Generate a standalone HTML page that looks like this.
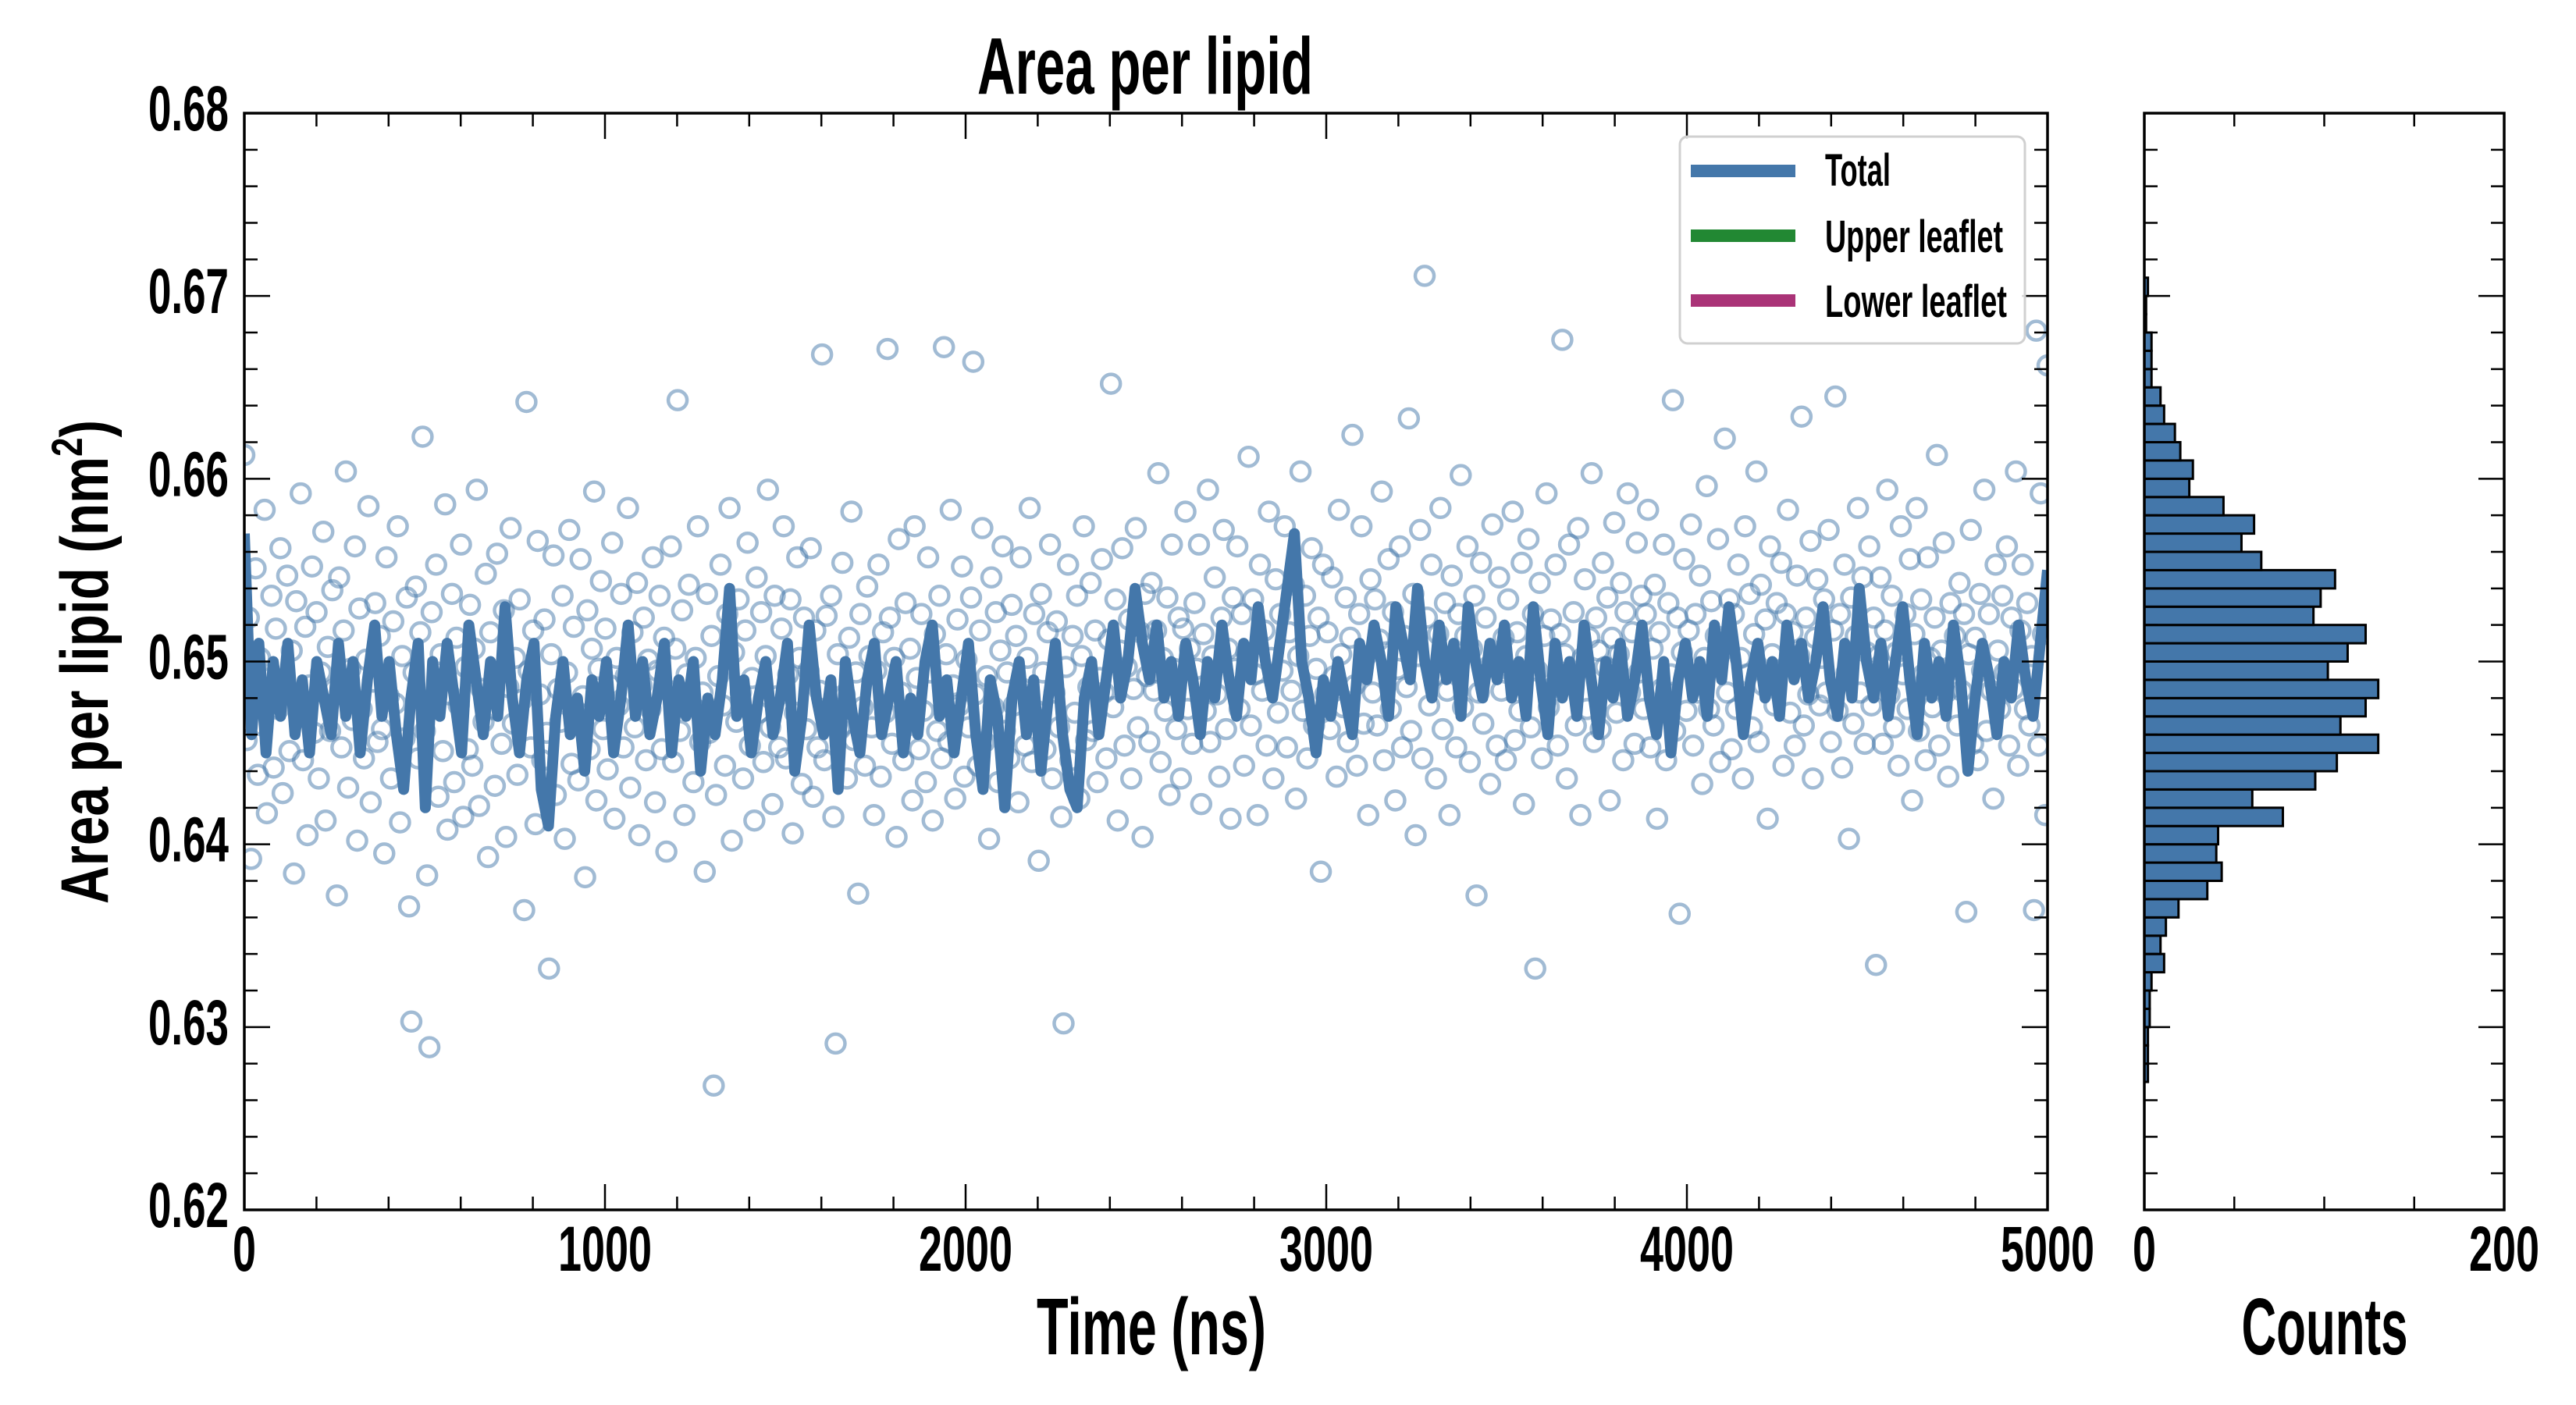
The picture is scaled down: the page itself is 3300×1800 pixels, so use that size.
<!DOCTYPE html>
<html><head><meta charset="utf-8"><title>Area per lipid</title>
<style>
html,body{margin:0;padding:0;background:#fff;}
svg{display:block;}
.cond{font-family:"Liberation Sans Narrow","Liberation Sans",sans-serif;font-weight:bold;fill:#000;}
</style></head>
<body>
<svg id="chart" xmlns="http://www.w3.org/2000/svg" width="3300" height="1800" viewBox="0 0 3300 1800">
<defs><clipPath id="plotclip"><rect x="313" y="145" width="2310" height="1405"/></clipPath></defs>
<rect x="0" y="0" width="3300" height="1800" fill="#fff"/>
<g id="scatter" clip-path="url(#plotclip)"></g>
<g id="lines" clip-path="url(#plotclip)"></g>
<g id="hist"></g>
<g id="axes"></g>
<text class="cond" x="1467" y="120" text-anchor="middle" font-size="103" textLength="430" lengthAdjust="spacingAndGlyphs">Area per lipid</text>
<text class="cond" x="1475" y="1735" text-anchor="middle" font-size="103" textLength="294" lengthAdjust="spacingAndGlyphs">Time (ns)</text>
<text class="cond" x="2978" y="1735" text-anchor="middle" font-size="103" textLength="213" lengthAdjust="spacingAndGlyphs">Counts</text>
<text x="0" y="0" transform="translate(138,848) rotate(-90)" text-anchor="middle" font-family="Liberation Sans, sans-serif" font-weight="bold" font-size="86" textLength="620" lengthAdjust="spacingAndGlyphs">Area per lipid (nm<tspan font-size="56" dy="-33">2</tspan><tspan dy="33">)</tspan></text>
<g>
<rect x="2152" y="175" width="442" height="265" rx="10" ry="10" fill="#fff" fill-opacity="0.85" stroke="#d0d0d0" stroke-width="3"/>
<line x1="2166" y1="219" x2="2300" y2="219" stroke="#4477aa" stroke-width="16"/>
<line x1="2166" y1="302" x2="2300" y2="302" stroke="#228833" stroke-width="16"/>
<line x1="2166" y1="385" x2="2300" y2="385" stroke="#aa3377" stroke-width="16"/>
<text class="cond" x="2338" y="238" font-size="58" textLength="84" lengthAdjust="spacingAndGlyphs">Total</text>
<text class="cond" x="2338" y="323" font-size="58" textLength="228" lengthAdjust="spacingAndGlyphs">Upper leaflet</text>
<text class="cond" x="2338" y="406" font-size="58" textLength="233" lengthAdjust="spacingAndGlyphs">Lower leaflet</text>
</g>
</svg>
<script>
// ---- data ----
var tMax = 5000;
var lineValues = [
.657,.646,.651,.645,.650,.647,.651,.646,.649,.645,.650,.648,.646,.651,.647,.650,.645,.649,.652,.647,.650,.646,.643,.648,.651,
.642,.650,.647,.651,.648,.645,.652,.649,.646,.650,.647,.653,.648,.645,.649,.651,.643,.641,.647,.650,.646,.648,.644,.649,.647,
.650,.645,.648,.652,.647,.650,.646,.648,.651,.645,.649,.647,.650,.644,.648,.646,.649,.654,.647,.649,.645,.648,.650,.646,.648,
.651,.644,.647,.652,.648,.646,.649,.643,.650,.647,.645,.649,.651,.646,.648,.650,.645,.648,.646,.650,.652,.647,.649,.645,.648,
.651,.646,.643,.649,.647,.642,.648,.650,.646,.649,.644,.648,.651,.646,.643,.642,.648,.650,.646,.649,.652,.648,.650,.654,.651,
.649,.652,.648,.650,.647,.651,.649,.646,.650,.648,.652,.649,.647,.651,.649,.653,.650,.648,.651,.654,.657,.650,.648,.645,.649,
.647,.650,.648,.646,.651,.649,.652,.650,.647,.653,.651,.649,.654,.650,.648,.652,.649,.651,.647,.653,.650,.648,.651,.649,.652,
.648,.650,.647,.653,.649,.646,.651,.648,.650,.647,.652,.649,.646,.650,.648,.651,.647,.649,.652,.648,.646,.650,.645,.649,.651,
.648,.650,.647,.652,.649,.653,.650,.646,.649,.651,.648,.650,.647,.652,.649,.651,.648,.650,.653,.649,.647,.651,.648,.654,.650,
.648,.651,.647,.650,.653,.649,.646,.651,.648,.650,.647,.652,.649,.644,.648,.651,.649,.646,.650,.648,.652,.649,.647,.651,.655];
var scatterValues = [
.6613,.6457,.6524,.6392,.6486,.6551,.6438,.6502,.6465,.6583,.6417,.6491,.6536,.6442,.6518,.6474,.6562,.6428,.6483,.6547,
.6451,.6506,.6384,.6533,.6478,.6592,.6446,.6519,.6405,.6487,.6552,.6461,.6527,.6436,.6494,.6571,.6413,.6508,.6462,.6539,
.6485,.6372,.6546,.6453,.6517,.6604,.6431,.6496,.6468,.6563,.6402,.6529,.6474,.6447,.6501,.6585,.6423,.6489,.6532,.6456,
.6514,.6463,.6395,.6557,.6481,.6436,.6522,.6477,.6574,.6412,.6503,.6458,.6535,.6366,.6303,.6494,.6541,.6447,.6516,.6623,
.6462,.6383,.6289,.6527,.6475,.6553,.6426,.6504,.6451,.6586,.6408,.6482,.6537,.6434,.6513,.6476,.6564,.6415,.6497,.6452,
.6531,.6443,.6507,.6594,.6421,.6485,.6467,.6548,.6393,.6516,.6474,.6432,.6559,.6493,.6455,.6528,.6404,.6486,.6573,.6466,
.6502,.6438,.6534,.6479,.6364,.6642,.6495,.6453,.6517,.6411,.6566,.6482,.6446,.6523,.6461,.6332,.6504,.6558,.6427,.6485,
.6467,.6536,.6403,.6494,.6572,.6444,.6519,.6473,.6435,.6556,.6481,.6382,.6528,.6452,.6507,.6593,.6424,.6496,.6544,.6463,
.6518,.6441,.6487,.6565,.6414,.6502,.6476,.6537,.6453,.6492,.6584,.6431,.6516,.6464,.6543,.6405,.6487,.6524,.6446,.6501,
.6474,.6557,.6423,.6495,.6536,.6452,.6513,.6396,.6484,.6563,.6445,.6507,.6643,.6462,.6528,.6416,.6493,.6542,.6477,.6434,
.6502,.6574,.6456,.6483,.6385,.6537,.6461,.6514,.6268,.6427,.6492,.6553,.6476,.6443,.6526,.6584,.6402,.6505,.6467,.6534,
.6483,.6436,.6517,.6565,.6454,.6491,.6413,.6546,.6472,.6527,.6445,.6503,.6594,.6464,.6422,.6536,.6481,.6453,.6518,.6574,
.6447,.6493,.6534,.6406,.6472,.6557,.6502,.6433,.6524,.6463,.6495,.6562,.6426,.6517,.6453,.6484,.6668,.6446,.6525,.6471,
.6536,.6415,.6291,.6504,.6463,.6554,.6482,.6436,.6513,.6582,.6457,.6494,.6373,.6526,.6475,.6443,.6541,.6503,.6464,.6416,
.6495,.6553,.6437,.6516,.6472,.6671,.6524,.6455,.6502,.6404,.6567,.6483,.6446,.6532,.6465,.6507,.6424,.6574,.6491,.6452,
.6526,.6473,.6434,.6557,.6494,.6413,.6515,.6462,.6536,.6447,.6672,.6504,.6456,.6583,.6487,.6425,.6523,.6476,.6552,.6437,
.6501,.6464,.6535,.6664,.6482,.6443,.6517,.6573,.6456,.6492,.6403,.6546,.6475,.6527,.6434,.6506,.6563,.6462,.6494,.6447,
.6531,.6476,.6514,.6423,.6557,.6485,.6454,.6502,.6584,.6445,.6526,.6473,.6391,.6537,.6494,.6452,.6516,.6564,.6436,.6483,
.6522,.6464,.6415,.6302,.6497,.6553,.6446,.6514,.6472,.6536,.6425,.6503,.6574,.6457,.6486,.6543,.6462,.6517,.6434,.6491,
.6556,.6483,.6447,.6512,.6652,.6475,.6534,.6413,.6506,.6562,.6454,.6497,.6523,.6436,.6485,.6573,.6464,.6516,.6404,.6537,
.6492,.6456,.6543,.6484,.6517,.6603,.6445,.6502,.6473,.6535,.6427,.6564,.6496,.6463,.6524,.6436,.6518,.6582,.6474,.6507,
.6455,.6532,.6496,.6564,.6422,.6515,.6473,.6594,.6456,.6503,.6546,.6482,.6437,.6524,.6572,.6463,.6507,.6414,.6535,.6496,
.6563,.6474,.6526,.6443,.6505,.6612,.6465,.6534,.6493,.6416,.6553,.6484,.6517,.6454,.6582,.6502,.6436,.6545,.6472,.6526,
.6495,.6574,.6453,.6516,.6484,.6542,.6425,.6503,.6604,.6473,.6536,.6447,.6514,.6562,.6465,.6496,.6524,.6385,.6553,.6482,
.6516,.6463,.6546,.6492,.6437,.6583,.6504,.6475,.6535,.6456,.6513,.6624,.6487,.6443,.6526,.6574,.6466,.6503,.6416,.6545,
.6483,.6534,.6465,.6512,.6593,.6446,.6505,.6556,.6474,.6527,.6424,.6496,.6563,.6453,.6514,.6486,.6633,.6462,.6537,.6405,
.6503,.6572,.6447,.6711,.6524,.6476,.6553,.6492,.6436,.6515,.6584,.6463,.6532,.6484,.6416,.6547,.6502,.6453,.6526,.6602,
.6475,.6514,.6563,.6445,.6507,.6536,.6372,.6483,.6554,.6466,.6524,.6497,.6433,.6575,.6502,.6454,.6546,.6484,.6513,.6446,
.6534,.6495,.6582,.6457,.6516,.6473,.6554,.6422,.6503,.6567,.6464,.6526,.6332,.6495,.6543,.6447,.6514,.6592,.6475,.6523,
.6486,.6553,.6454,.6515,.6676,.6504,.6436,.6564,.6493,.6527,.6465,.6573,.6416,.6502,.6545,.6474,.6513,.6603,.6456,.6524,
.6506,.6463,.6554,.6497,.6535,.6424,.6513,.6576,.6472,.6504,.6543,.6446,.6527,.6592,.6483,.6516,.6455,.6565,.6494,.6536,
.6474,.6526,.6583,.6453,.6507,.6542,.6414,.6516,.6485,.6564,.6446,.6532,.6493,.6643,.6462,.6524,.6362,.6505,.6556,.6473,
.6517,.6575,.6454,.6526,.6483,.6547,.6433,.6502,.6596,.6474,.6533,.6465,.6514,.6567,.6445,.6506,.6622,.6483,.6534,.6452,
.6526,.6474,.6553,.6502,.6436,.6574,.6493,.6537,.6464,.6515,.6604,.6456,.6542,.6487,.6523,.6414,.6563,.6504,.6476,.6532,
.6495,.6554,.6443,.6526,.6583,.6472,.6516,.6454,.6547,.6503,.6634,.6465,.6524,.6482,.6566,.6436,.6513,.6545,.6476,.6502,
.6534,.6483,.6572,.6456,.6517,.6645,.6473,.6526,.6442,.6553,.6494,.6403,.6535,.6466,.6514,.6584,.6483,.6546,.6455,.6505,
.6563,.6476,.6524,.6334,.6503,.6546,.6455,.6517,.6594,.6482,.6536,.6464,.6505,.6443,.6574,.6493,.6526,.6474,.6556,.6424,
.6515,.6584,.6462,.6534,.6493,.6446,.6557,.6502,.6475,.6524,.6613,.6454,.6506,.6565,.6483,.6437,.6532,.6496,.6514,.6465,
.6543,.6484,.6526,.6363,.6504,.6572,.6455,.6513,.6446,.6537,.6495,.6594,.6462,.6526,.6484,.6425,.6553,.6506,.6474,.6536,
.6494,.6563,.6454,.6524,.6485,.6604,.6443,.6517,.6553,.6474,.6532,.6465,.6503,.6364,.6681,.6454,.6592,.6515,.6416,.6662];
var binEdges = [.627,.628,.629,.630,.631,.632,.633,.634,.635,.636,.637,.638,.639,.640,.641,.642,.643,.644,.645,.646,.647,.648,.649,.650,.651,.652,.653,.654,.655,.656,.657,.658,.659,.660,.661,.662,.663,.664,.665,.666,.667,.668,.669,.670];
var binCounts = [2,2,2,3,3,4,11,9,12,19,35,43,40,41,77,60,95,107,130,109,123,130,102,113,123,94,98,106,65,54,61,44,25,27,20,17,11,9,4,4,4,1,1,2];
var binWidth = 0.001;
var xTickLabels = ["0","1000","2000","3000","4000","5000"];
var yTickLabels = ["0.62","0.63","0.64","0.65","0.66","0.67","0.68"];
var histTickLabels = ["0","200"];

// ---- axes functions ----
var PL=313, PR=2623, PT=145, PB=1550, HL=2747, HR=3208;
function xs(t){return PL + t/tMax*(PR-PL);}
function ys(v){return PT + (0.68-v)/0.06*(PB-PT);}
function hx(c){return HL + c/200*(HR-HL);}
var NS="http://www.w3.org/2000/svg";
function mk(tag, attrs, parent){var e=document.createElementNS(NS,tag);for(var k in attrs)e.setAttribute(k,attrs[k]);parent.appendChild(e);return e;}

// scatter
var sg=document.getElementById('scatter');
for(var i=0;i<scatterValues.length;i++){
  var c=mk('circle',{cx:xs(i*tMax/(scatterValues.length-1)),cy:ys(scatterValues[i]),r:12,fill:'none',stroke:'#4477aa','stroke-opacity':0.5,'stroke-width':4.5},sg);
  
  
}
// line
var pts=[];
for(var j=0;j<lineValues.length;j++){pts.push(xs(j*tMax/(lineValues.length-1)).toFixed(1)+','+ys(lineValues[j]).toFixed(1));}
var pl=mk('polyline',{points:pts.join(' '),fill:'none',stroke:'#4477aa','stroke-width':14,'stroke-linejoin':'round'},document.getElementById('lines'));


// histogram
var hg=document.getElementById('hist');
for(var b=0;b<binCounts.length;b++){
  if(binCounts[b]<=0) continue;
  var yTop=ys(binEdges[b]+binWidth), yBot=ys(binEdges[b]);
  var r=mk('rect',{x:HL,y:yTop,width:hx(binCounts[b])-HL,height:yBot-yTop,fill:'#4477aa',stroke:'#000','stroke-width':3},hg);
  
  
}
// axes
var ag=document.getElementById('axes');
function frame(x0,x1){
  var f=mk('rect',{x:x0,y:PT,width:x1-x0,height:PB-PT,fill:'none',stroke:'#000','stroke-width':3.5},ag);
  
  
}
frame(PL,PR); frame(HL,HR);
function tick(x1,y1,x2,y2){var l=mk('line',{x1:x1,y1:y1,x2:x2,y2:y2,stroke:'#000','stroke-width':2.5},ag);
  
  }
for(var k=0;k<=30;k++){
  var v=0.62+k*0.002, y=ys(v), len=(k%5===0)?33:17;
  if(k===0||k===30) continue;
  tick(PL,y,PL+len,y); tick(PR,y,PR-len,y);
  tick(HL,y,HL+len,y); tick(HR,y,HR-len,y);
}
for(var m=1;m<25;m++){
  var x=xs(m*200), len2=(m%5===0)?33:17;
  tick(x,PB,x,PB-len2); tick(x,PT,x,PT+len2);
}
for(var n=1;n<4;n++){var hxx=hx(n*50); tick(hxx,PB,hxx,PB-17); tick(hxx,PT,hxx,PT+17);}
function lbl(txt,x,y,anchor,w,fs,name){
  var t=mk('text',{x:x,y:y,'text-anchor':anchor,'font-size':fs,textLength:w,lengthAdjust:'spacingAndGlyphs','class':'cond'},ag);
  t.textContent=txt;
  
  
}
function lw(s){var w=0;for(var q=0;q<s.length;q++){w+=(s[q]==='.')?13:30;}return w;}
for(var a=0;a<yTickLabels.length;a++){var vv=parseFloat(yTickLabels[a]);lbl(yTickLabels[a],293,ys(vv)+22,'end',lw(yTickLabels[a]),82,'y-tick-label');}
for(var bb=0;bb<xTickLabels.length;bb++){var tv=parseFloat(xTickLabels[bb]);lbl(xTickLabels[bb],xs(tv),1628,'middle',lw(xTickLabels[bb]),82,'x-tick-label');}
for(var cc=0;cc<histTickLabels.length;cc++){var hv=parseFloat(histTickLabels[cc]);lbl(histTickLabels[cc],hx(hv),1628,'middle',lw(histTickLabels[cc]),82,'histogram-x-tick-label');}
</script>
</body></html>
